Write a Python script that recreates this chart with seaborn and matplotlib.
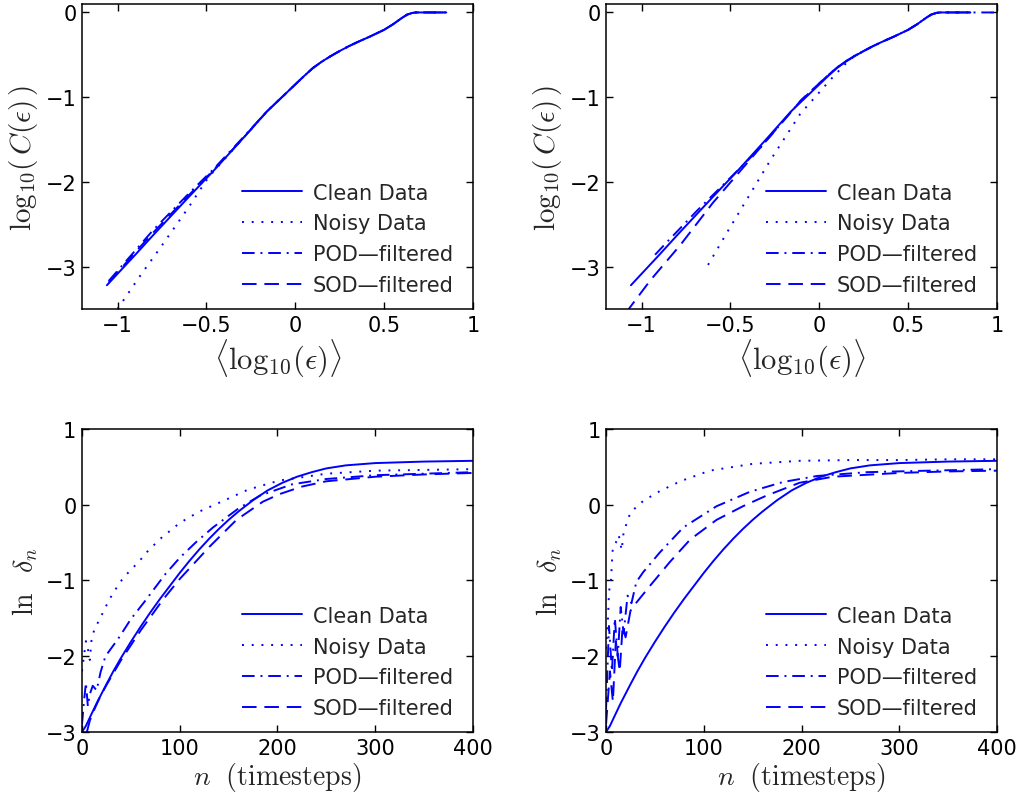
import matplotlib
matplotlib.use("Agg")
import matplotlib.pyplot as plt
import seaborn as sns
from matplotlib.ticker import FuncFormatter

# ---- correlation sum, top row (x = <log10(eps)>, y = log10(C(eps))) ----
clean_top_x = [-1.06, -0.9, -0.8, -0.6, -0.46, -0.3, -0.16, -0.05, 0.05, 0.1, 0.15, 0.2, 0.25, 0.3, 0.35, 0.42, 0.5, 0.55, 0.6, 0.63, 0.66, 0.68, 0.85]
clean_top_y = [-3.22, -2.86, -2.63, -2.18, -1.87, -1.5, -1.17, -0.95, -0.75, -0.655, -0.58, -0.515, -0.455, -0.4, -0.35, -0.285, -0.205, -0.14, -0.065, -0.025, -0.005, 0.0, 0.0]

noisy_tl_x = [-1.0, -0.87, -0.75, -0.6, -0.49, -0.3, -0.16, -0.05, 0.05, 0.1, 0.15, 0.2, 0.25, 0.3, 0.35, 0.42, 0.5, 0.55, 0.6, 0.63, 0.66, 0.68, 0.85]
noisy_tl_y = [-3.5, -3.1, -2.75, -2.3, -1.95, -1.5, -1.17, -0.95, -0.75, -0.655, -0.58, -0.515, -0.455, -0.4, -0.35, -0.285, -0.205, -0.14, -0.065, -0.025, -0.005, 0.0, 0.0]
pod_tl_x = [-1.05, -0.9, -0.8, -0.6, -0.46, -0.3, -0.16, -0.05, 0.05, 0.1, 0.15, 0.2, 0.25, 0.3, 0.35, 0.42, 0.5, 0.55, 0.6, 0.63, 0.66, 0.68, 0.85]
pod_tl_y = [-3.17, -2.81, -2.57, -2.14, -1.85, -1.49, -1.17, -0.95, -0.75, -0.655, -0.58, -0.515, -0.455, -0.4, -0.35, -0.285, -0.205, -0.14, -0.065, -0.025, -0.005, 0.0, 0.0]
sod_tl_x = [-1.05, -0.9, -0.8, -0.6, -0.46, -0.3, -0.16, -0.05, 0.05, 0.1, 0.15, 0.2, 0.25, 0.3, 0.35, 0.42, 0.5, 0.55, 0.6, 0.63, 0.66, 0.68, 0.85]
sod_tl_y = [-3.19, -2.83, -2.6, -2.16, -1.86, -1.5, -1.17, -0.95, -0.75, -0.655, -0.58, -0.515, -0.455, -0.4, -0.35, -0.285, -0.205, -0.14, -0.065, -0.025, -0.005, 0.0, 0.0]

noisy_tr_x = [-0.626, -0.52, -0.42, -0.277, -0.108, 0.06, 0.173, 0.25, 0.3, 0.35, 0.42, 0.5, 0.55, 0.6, 0.63, 0.66, 0.68, 0.85]
noisy_tr_y = [-2.98, -2.6, -2.25, -1.75, -1.2, -0.8, -0.55, -0.455, -0.4, -0.35, -0.285, -0.205, -0.14, -0.065, -0.025, -0.005, 0.0, 0.0]
pod_tr_x = [-0.924, -0.857, -0.688, -0.5, -0.333, -0.108, 0.05, 0.1, 0.15, 0.2, 0.25, 0.3, 0.35, 0.42, 0.5, 0.55, 0.6, 0.63, 0.66, 0.68, 0.85, 1.0]
pod_tr_y = [-2.86, -2.71, -2.34, -1.95, -1.6, -1.05, -0.74, -0.65, -0.575, -0.51, -0.455, -0.4, -0.35, -0.285, -0.205, -0.14, -0.065, -0.025, -0.005, 0.0, 0.0, 0.0]
sod_tr_x = [-1.09, -0.95, -0.78, -0.6, -0.35, -0.1, 0.05, 0.1, 0.15, 0.2, 0.25, 0.3, 0.35, 0.42, 0.5, 0.55, 0.6, 0.63, 0.66, 0.68, 0.85]
sod_tr_y = [-3.55, -3.16, -2.74, -2.25, -1.64, -1.03, -0.74, -0.65, -0.575, -0.51, -0.455, -0.4, -0.35, -0.285, -0.205, -0.14, -0.065, -0.025, -0.005, 0.0, 0.0]

# ---- divergence, bottom row (x = n timesteps, y = ln delta_n) ----
clean_bot_n = [0, 4, 8, 15, 25, 32, 40, 50, 60, 70, 80, 90, 100, 110, 120, 130, 140, 150, 160, 175, 190, 205, 220, 235, 250, 270, 300, 350, 400]
clean_bot_y = [-3.0, -2.92, -2.81, -2.62, -2.37, -2.2, -2.02, -1.81, -1.61, -1.42, -1.24, -1.07, -0.9, -0.74, -0.59, -0.45, -0.32, -0.2, -0.09, 0.06, 0.19, 0.29, 0.37, 0.43, 0.48, 0.52, 0.55, 0.57, 0.58]

noisy_bl_n = [0, 2, 4, 6, 8, 10, 13, 20, 28, 39, 47, 59, 66, 80, 100, 120, 141, 170, 202, 250, 300, 350, 400]
noisy_bl_y = [-2.2, -2.0, -1.8, -1.9, -2.05, -1.75, -1.64, -1.46, -1.25, -1.02, -0.9, -0.74, -0.63, -0.45, -0.24, -0.09, 0.03, 0.2, 0.32, 0.41, 0.45, 0.46, 0.47]
pod_bl_n = [0, 2, 4, 6, 8, 11, 15, 19, 24, 37, 50, 64, 85, 100, 117, 134, 160, 182, 215, 250, 300, 350, 400]
pod_bl_y = [-2.9, -2.6, -2.35, -2.66, -2.5, -2.39, -2.45, -2.21, -2.0, -1.77, -1.51, -1.28, -0.92, -0.7, -0.49, -0.3, -0.05, 0.12, 0.27, 0.34, 0.39, 0.41, 0.43]
sod_bl_n = [5, 8, 12, 18, 25, 40, 60, 83, 100, 130, 158, 185, 202, 225, 250, 300, 350, 400]
sod_bl_y = [-3.0, -2.85, -2.72, -2.55, -2.38, -2.05, -1.66, -1.25, -0.98, -0.56, -0.2, 0.04, 0.14, 0.24, 0.31, 0.37, 0.4, 0.42]

noisy_br_n = [0, 2, 3, 5, 7, 10, 13, 16, 18, 25, 38, 55, 76, 106, 150, 198, 250, 300, 350, 400]
noisy_br_y = [-1.9, -1.5, -1.15, -1.0, -0.55, -0.5, -0.4, -0.6, -0.36, -0.1, 0.05, 0.18, 0.31, 0.45, 0.54, 0.58, 0.59, 0.59, 0.6, 0.6]
pod_br_n = [0, 3, 6, 9, 12, 15, 18, 22, 26, 31, 38, 55, 79, 113, 147, 181, 216, 267, 330, 400]
pod_br_y = [-2.7, -1.6, -2.2, -1.5, -2.0, -1.35, -1.7, -1.2, -1.3, -1.02, -0.89, -0.63, -0.3, -0.02, 0.17, 0.3, 0.38, 0.43, 0.45, 0.47]
sod_br_n = [0, 4, 7, 10, 14, 17, 20, 25, 28, 45, 65, 86, 113, 140, 164, 198, 232, 300, 350, 400]
sod_br_y = [-2.9, -2.2, -2.6, -1.8, -2.2, -1.6, -1.75, -1.4, -1.34, -1.07, -0.76, -0.46, -0.2, -0.02, 0.12, 0.29, 0.37, 0.42, 0.44, 0.45]

labels = ["Clean Data", "Noisy Data", "POD\u2014filtered", "SOD\u2014filtered"]

sns.set_theme(style="ticks")
plt.rcParams["font.family"] = ["DejaVu Sans"]
plt.rcParams["mathtext.fontset"] = "cm"
plt.rcParams["axes.unicode_minus"] = True

blue = (0, 0, 1)
lw = 1.4
styles = ["-", (0, (1, 4)), (0, (6.5, 3, 1, 3)), (0, (7.5, 4))]

fig = plt.figure(figsize=(10.16, 8.03), dpi=100)
w, h_top, h_bot = 0.3848, 0.3798, 0.3773
ax_tl = fig.add_axes([0.0807, 0.614, w, h_top])
ax_tr = fig.add_axes([0.5965, 0.614, w, h_top])
ax_bl = fig.add_axes([0.0807, 0.0872, w, h_bot])
ax_br = fig.add_axes([0.5965, 0.0872, w, h_bot])

fmt = FuncFormatter(lambda v, pos: ("%g" % v).replace("-", "\u2212"))


def draw_panel(ax, series, top):
    for (x, y), ls, lab in zip(series, styles, labels):
        sns.lineplot(x=x, y=y, ax=ax, color=blue, linewidth=lw, linestyle=ls,
                     label=lab, sort=False, estimator=None)
    for ln in ax.get_lines():
        ln.set_dash_capstyle("butt")
    if top:
        ax.set_xlim(-1.2, 1)
        ax.set_ylim(-3.5, 0.1)
        ax.set_xticks([-1, -0.5, 0, 0.5, 1])
        ax.set_yticks([-3, -2, -1, 0])
        ax.set_xlabel(r"$\langle\mathrm{log}_{10}(\epsilon)\rangle$", fontsize=22, labelpad=1)
        ax.set_ylabel(r"$\mathrm{log}_{10}(\,C(\epsilon)\,)$", fontsize=21, labelpad=4)
    else:
        ax.set_xlim(0, 400)
        ax.set_ylim(-3, 1)
        ax.set_xticks([0, 100, 200, 300, 400])
        ax.set_yticks([-3, -2, -1, 0, 1])
        ax.set_xlabel(r"$n\ \ \mathrm{(timesteps)}$", fontsize=20, labelpad=2)
        ax.set_ylabel(r"$\ln\ \ \delta_n$", fontsize=20, labelpad=4)
    ax.xaxis.set_major_formatter(fmt)
    ax.yaxis.set_major_formatter(fmt)
    ax.tick_params(direction="in", top=True, right=True, length=5, width=1,
                   labelsize=15, pad=4, colors="black")
    for sp in ax.spines.values():
        sp.set_visible(True)
        sp.set_linewidth(1.1)
        sp.set_color("black")
    ax.legend(loc="lower right", bbox_to_anchor=(0.972, 0.018), borderaxespad=0,
              frameon=False, fontsize=15, handlelength=2.9, handletextpad=0.5,
              labelspacing=0.52)


draw_panel(ax_tl, [(clean_top_x, clean_top_y), (noisy_tl_x, noisy_tl_y),
                   (pod_tl_x, pod_tl_y), (sod_tl_x, sod_tl_y)], True)
draw_panel(ax_tr, [(clean_top_x, clean_top_y), (noisy_tr_x, noisy_tr_y),
                   (pod_tr_x, pod_tr_y), (sod_tr_x, sod_tr_y)], True)
draw_panel(ax_bl, [(clean_bot_n, clean_bot_y), (noisy_bl_n, noisy_bl_y),
                   (pod_bl_n, pod_bl_y), (sod_bl_n, sod_bl_y)], False)
draw_panel(ax_br, [(clean_bot_n, clean_bot_y), (noisy_br_n, noisy_br_y),
                   (pod_br_n, pod_br_y), (sod_br_n, sod_br_y)], False)

fig.savefig("out.png", dpi=100)
